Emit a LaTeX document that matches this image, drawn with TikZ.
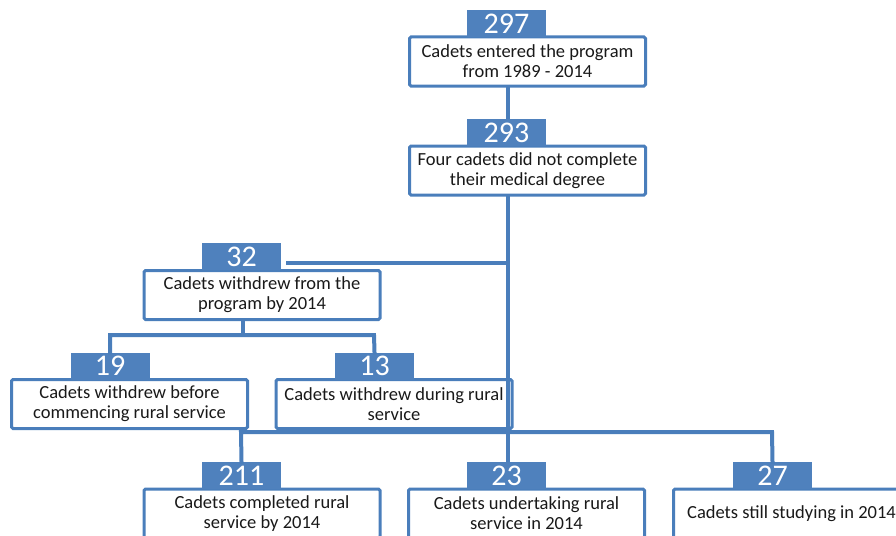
\documentclass[tikz,border=0pt]{standalone}
\usepackage{fontspec}
\setmainfont{Carlito}
\definecolor{bl}{HTML}{4F81BD}
\definecolor{bd}{HTML}{4A7EBB}
\begin{document}
\begin{tikzpicture}[x=1pt,y=-1pt,
  wbox/.style={draw=bd, line width=3pt, fill=white, rounded corners=1.5pt,
    minimum width=236pt, minimum height=49pt, inner sep=0pt, align=center,
    font=\fontsize{18.5}{20}\selectfont, text=black!90},
  nbox/.style={fill=bl, minimum width=79pt, minimum height=27pt, inner sep=0pt,
    text=white, font=\fontsize{30}{30}\selectfont},
  conn/.style={draw=bd, line width=4pt}]
\useasboundingbox (0,0) rectangle (896,535);
\coordinate (t1) at (508,86);
\coordinate (t2) at (508,195);
\coordinate (j32) at (508,263);
\coordinate (e32) at (286,263);
\coordinate (bus) at (508,432);
\coordinate (bl) at (241,432);
\coordinate (br) at (772,432);
\coordinate (s3) at (243,320);
\coordinate (m3) at (243,335);
\coordinate (ml) at (110,335);
\coordinate (mr) at (374,335);
\node[wbox] (b1) at (527.5,61.5) {Cadets entered the program\\from 1989 - 2014};
\node[nbox] (n1) at (506.5,24) {297};
\node[wbox] (b2) at (527.5,170.5) {Four cadets did not complete\\their medical degree};
\node[nbox] (n2) at (506.5,132.5) {293};
\node[wbox] (b3) at (262,295) {Cadets withdrew from the\\program by 2014};
\node[nbox] (n3) at (241.5,256.5) {32};
\node[wbox] (b4) at (129.5,404) {Cadets withdrew before\\commencing rural service};
\node[nbox] (n4) at (110,366) {19};
\node[wbox] (b5) at (394,404) {Cadets withdrew during rural\\service};
\node[nbox] (n5) at (374.5,366) {13};
\node[wbox] (b6) at (262,513.5) {Cadets completed rural\\service by 2014};
\node[nbox] (n6) at (241.5,475.5) {211};
\node[wbox] (b7) at (526.5,513.5) {Cadets undertaking rural\\service in 2014};
\node[nbox] (n7) at (506.5,475.5) {23};
\node[wbox] (b8) at (791.5,513.5) {Cadets still studying in 2014};
\node[nbox] (n8) at (772.5,475.5) {27};
\draw[conn] (t1) -- (n2.north -| t1);
\draw[conn] (t2) -- (bus);
\draw[conn] (j32) -- (e32);
\draw[conn, line cap=rect] (n6.north) -- (bl) -- (br) -- (n8.north);
\draw[conn] (bus) -- (n7.north -| bus);
\draw[conn] (s3) -- (m3);
\draw[conn, line cap=rect] (n4.north) -- (ml) -- (mr) -- (n5.north);
\end{tikzpicture}
\end{document}
